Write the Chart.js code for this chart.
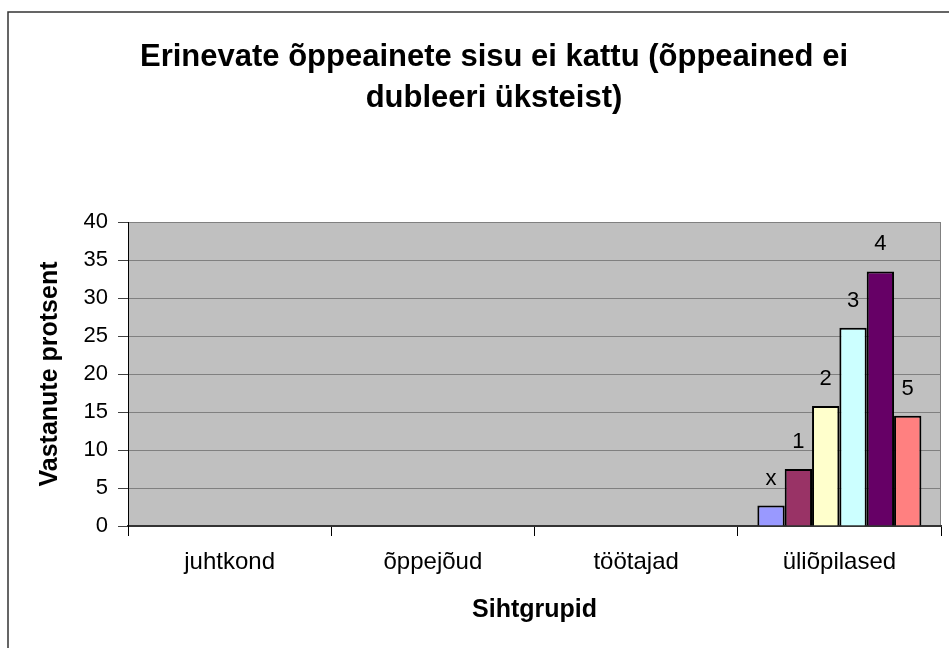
<!DOCTYPE html>
<html>
<head>
<meta charset="utf-8">
<script src="https://cdn.jsdelivr.net/npm/chart.js@4/dist/chart.umd.min.js"></script>
<style>
html,body{margin:0;padding:0;background:#fff;}
#wrap{width:949px;height:648px;position:relative;}
</style>
</head>
<body>
<div id="wrap"><canvas id="c" width="949" height="648"></canvas></div>
<script>
const categories = ['juhtkond', 'õppejõud', 'töötajad', 'üliõpilased'];
const seriesNames = ['x', '1', '2', '3', '4', '5'];
const valuesX = [null, null, null, 2.7];
const values1 = [null, null, null, 7.5];
const values2 = [null, null, null, 15.8];
const values3 = [null, null, null, 26.1];
const values4 = [null, null, null, 33.5];
const values5 = [null, null, null, 14.5];
const seriesColors = ['#9999FF', '#993366', '#FFFFCC', '#CCFFFF', '#660066', '#FF8080'];
const yMin = 0, yMax = 40, yStep = 5;
const titleLines = ['Erinevate õppeainete sisu ei kattu (õppeained ei', 'dubleeri üksteist)'];
const yTitle = 'Vastanute protsent';
const xTitle = 'Sihtgrupid';

const allValues = [valuesX, values1, values2, values3, values4, values5];
const FONT = "'Liberation Sans', Arial, sans-serif";

const bgPlugin = {
  id: 'bg',
  beforeDraw(chart) {
    const ctx = chart.ctx;
    const a = chart.chartArea;
    ctx.save();
    ctx.fillStyle = '#C0C0C0';
    ctx.fillRect(a.left, a.top, a.right - a.left, a.bottom - a.top);
    ctx.strokeStyle = '#808080';
    ctx.lineWidth = 1;
    ctx.strokeRect(a.left + 0.5, a.top + 0.5, a.right - a.left - 1, a.bottom - a.top);
    // outer chart frame
    ctx.strokeStyle = '#333333';
    ctx.lineWidth = 1.5;
    ctx.beginPath();
    ctx.moveTo(8, 648);
    ctx.lineTo(8, 12);
    ctx.lineTo(949, 12);
    ctx.stroke();
    ctx.restore();
  }
};

const labelPlugin = {
  id: 'barLabels',
  afterDatasetsDraw(chart) {
    const ctx = chart.ctx;
    ctx.save();
    ctx.font = '22px ' + FONT;
    ctx.fillStyle = '#000';
    ctx.textAlign = 'center';
    ctx.textBaseline = 'middle';
    chart.data.datasets.forEach((ds, i) => {
      const meta = chart.getDatasetMeta(i);
      meta.data.forEach((el, j) => {
        const v = ds.data[j];
        if (v === null || v === undefined) return;
        ctx.fillText(ds.label, el.x, el.y - 27);
      });
    });
    ctx.restore();
  }
};

new Chart(document.getElementById('c'), {
  type: 'bar',
  data: {
    labels: categories,
    datasets: seriesNames.map((n, i) => ({
      label: n,
      data: allValues[i],
      backgroundColor: seriesColors[i],
      borderColor: '#000',
      borderWidth: 2,
      categoryPercentage: 0.807,
      barPercentage: 1.0
    }))
  },
  options: {
    responsive: false,
    animation: false,
    layout: { padding: { left: 47, right: 8, top: 0, bottom: 0 } },
    plugins: {
      legend: { display: false },
      tooltip: { enabled: false },
      title: {
        display: true,
        text: titleLines,
        color: '#000',
        font: { family: FONT, size: 31, weight: 'bold', lineHeight: 1.3226 },
        padding: { top: 37, bottom: 103 }
      }
    },
    scales: {
      x: {
        grid: { display: true, drawOnChartArea: false, drawTicks: true, tickLength: 10, tickColor: '#000', offset: true },
        border: { display: true, color: '#333', width: 2 },
        ticks: { color: '#000', padding: 12, font: { family: FONT, size: 24 }, maxRotation: 0 },
        title: { display: true, text: xTitle, color: '#000', font: { family: FONT, size: 25, weight: 'bold' }, padding: { top: 0, bottom: 23 } },
        afterFit(scale) { scale.height = 122; }
      },
      y: {
        min: yMin, max: yMax,
        grid: { color: '#808080', tickLength: 10, tickColor: '#404040' },
        border: { display: true, color: '#000', width: 1 },
        ticks: { stepSize: yStep, color: '#000', padding: 10, font: { family: FONT, size: 22 } },
        title: { display: true, text: yTitle, color: '#000', font: { family: FONT, size: 25, weight: 'bold' }, padding: { top: -12, bottom: 0 } },
        afterFit(scale) { scale.width = 81; }
      }
    }
  },
  plugins: [bgPlugin, labelPlugin]
});
</script>
</body>
</html>
